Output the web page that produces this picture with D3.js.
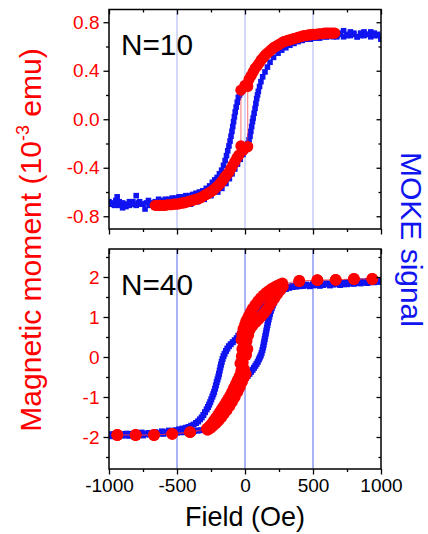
<!DOCTYPE html>
<html>
<head>
<meta charset="utf-8">
<script src="https://cdn.jsdelivr.net/npm/d3@7"></script>
<style>
html,body{margin:0;padding:0;background:#fff;}
svg{display:block;font-family:"Liberation Sans",Arial,sans-serif;}
</style>
</head>
<body>
<svg id="chart" width="428" height="534"></svg>
<script>
// ---------------- DATA ----------------
const xTickValues = [-1000, -500, 0, 500, 1000];
const xTickLabels = ["-1000", "-500", "0", "500", "1000"];
const xMinorTicks = [-750, -250, 250, 750];
const guideFields = [-500, 0, 500];

const topYTickValues = [-0.8, -0.4, 0.0, 0.4, 0.8];
const topYTickLabels = ["-0.8", "-0.4", "0.0", "0.4", "0.8"];
const topYMinorTicks = [-0.6, -0.2, 0.2, 0.6];

const botYTickValues = [-2, -1, 0, 1, 2];
const botYTickLabels = ["-2", "-1", "0", "1", "2"];
const botYMinorTicks = [-2.5, -1.5, -0.5, 0.5, 1.5, 2.5];

const panelLabels = ["N=10", "N=40"];

// N=10 : SQUID magnetic moment (10^-3 emu), descending and ascending branches
const n10MomentDown = [[660,.71],[630,.71],[600,.71],[570,.705],[540,.705],[510,.70],[480,.695],[450,.69],[420,.685],[390,.675],[360,.665],[330,.655],[300,.645],[270,.63],[240,.61],[210,.59],[180,.56],[150,.53],[120,.49],[90,.44],[60,.39],[30,.33],[0,.28],[-30,.24],
  [-30,-.22],[-60,-.32],[-90,-.38],[-120,-.44],[-150,-.48],[-180,-.525],[-210,-.56],[-240,-.59],[-270,-.61],[-300,-.63],[-330,-.65],[-360,-.66],[-390,-.67],[-420,-.68],[-450,-.69],[-480,-.695],[-510,-.70],[-540,-.705],[-570,-.705],[-600,-.71],[-630,-.71],[-660,-.71]];
const n10MomentUp = [[-645,-.71],[-615,-.71],[-585,-.71],[-555,-.705],[-525,-.70],[-495,-.70],[-465,-.69],[-435,-.685],[-405,-.675],[-375,-.665],[-345,-.655],[-315,-.64],[-285,-.62],[-255,-.60],[-225,-.575],[-195,-.545],[-165,-.505],[-135,-.46],[-105,-.41],[-75,-.35],[-45,-.295],[-15,-.255],[15,-.23],[20,-.225],
  [20,.27],[45,.36],[75,.42],[105,.465],[135,.51],[165,.545],[195,.575],[225,.60],[255,.62],[285,.64],[315,.65],[345,.66],[375,.67],[405,.68],[435,.69],[465,.695],[495,.70],[525,.70],[555,.705],[585,.71],[615,.71],[645,.71]];

// N=10 : MOKE signal (scaled onto the same axis)
const n10MokeDown = [[1000,.66],[975,.69],[950,.71],[925,.68],[900,.70],[875,.72],[850,.69],[825,.68],[800,.71],[775,.69],[750,.70],[725,.68],[700,.71],[675,.69],[650,.68],[625,.69],[600,.68],[575,.69],[550,.67],[525,.68],[500,.67],[475,.67],[450,.66],[425,.66],[400,.66],[375,.65],[350,.65],[325,.64],[300,.63],[275,.62],[250,.60],[225,.59],[200,.57],[175,.55],[150,.52],[125,.49],[100,.45],[80,.41],[60,.37],[40,.33],[20,.29],[0,.26],[-15,.24],[-30,.22],[-40,.20],[-49,.18],[-57,.14],[-65,.10],[-72,.06],[-78,.02],[-84,-.02],[-90,-.06],[-96,-.10],[-103,-.14],[-110,-.18],[-118,-.22],[-127,-.26],[-136,-.30],[-146,-.34],[-158,-.38],[-172,-.42],[-188,-.45],[-205,-.48],[-222,-.50],[-240,-.52],[-260,-.55],[-285,-.57],[-310,-.59],[-335,-.60],[-360,-.61],[-385,-.62],[-410,-.63],[-435,-.63],[-460,-.64],[-485,-.64],[-510,-.65],[-535,-.65],[-560,-.66],[-585,-.66],[-610,-.67],[-635,-.66],[-660,-.68],[-685,-.69],[-710,-.67],[-735,-.74],[-760,-.70],[-785,-.69],[-800,-.63],[-825,-.68],[-850,-.71],[-875,-.70],[-900,-.73],[-925,-.68],[-940,-.64],[-960,-.71],[-980,-.69],[-1000,-.70]];
const n10MokeUp = [[-1000,-.68],[-975,-.70],[-950,-.67],[-925,-.71],[-900,-.69],[-875,-.72],[-850,-.68],[-825,-.70],[-800,-.71],[-775,-.68],[-750,-.70],[-725,-.69],[-700,-.71],[-675,-.70],[-650,-.71],[-600,-.71],[-550,-.71],[-500,-.71],[-450,-.70],[-400,-.70],[-350,-.68],[-300,-.66],[-250,-.63],[-200,-.60],[-170,-.57],[-140,-.53],[-115,-.49],[-95,-.45],[-75,-.41],[-55,-.37],[-35,-.33],[-15,-.29],[0,-.26],[12,-.23],[22,-.20],[30,-.17],[37,-.14],[43,-.10],[49,-.06],[55,-.02],[60,.01],[67,.05],[74,.09],[80,.13],[86,.17],[92,.20],[98,.23],[107,.27],[117,.31],[130,.35],[147,.39],[165,.43],[184,.47],[210,.51],[243,.545],[270,.57],[300,.59],[330,.61],[360,.625],[390,.64],[420,.65],[450,.66],[480,.66],[510,.67],[540,.67],[570,.68],[600,.68],[625,.69],[650,.70],[675,.68],[700,.70],[725,.73],[750,.69],[775,.72],[800,.70],[825,.68],[850,.71],[875,.69],[900,.70],[925,.72],[950,.69],[975,.70],[1000,.67]];

// N=40 : SQUID magnetic moment
const n40MomentDown = [[936,1.95],[801,1.95],[667,1.93],[532,1.92],[399,1.90],[275,1.84],[255,1.81],[235,1.78],[215,1.74],[195,1.70],[175,1.65],[155,1.60],[135,1.54],[115,1.47],[95,1.39],[75,1.30],[55,1.20],[40,1.11],[25,1.01],[10,.91],[0,.81],[-12,.70],[-20,.57],[-26,.43],[-20,.20],[-24,.02],[-34,-.16],[-28,-.35],[-40,-.48],[-54,-.58],[-68,-.68],[-82,-.78],[-96,-.88],[-110,-.97],[-125,-1.06],[-140,-1.14],[-155,-1.22],[-170,-1.30],[-185,-1.38],[-200,-1.46],[-215,-1.53],[-230,-1.60],[-245,-1.67],[-260,-1.73],[-280,-1.79],[-404,-1.88],[-535,-1.92],[-669,-1.95],[-804,-1.95],[-939,-1.95]];
const n40MomentUp = [[-939,-1.95],[-804,-1.95],[-669,-1.95],[-535,-1.92],[-404,-1.88],[-275,-1.82],[-255,-1.78],[-235,-1.72],[-215,-1.66],[-195,-1.59],[-175,-1.51],[-155,-1.42],[-135,-1.33],[-115,-1.23],[-95,-1.12],[-75,-1.00],[-55,-.87],[-38,-.75],[-22,-.62],[-8,-.51],[5,-.42],[-8,-.30],[-16,-.14],[8,.05],[18,.20],[12,.40],[24,.55],[38,.70],[58,.80],[78,.87],[98,.94],[118,1.01],[138,1.09],[158,1.18],[178,1.28],[198,1.38],[218,1.48],[238,1.58],[258,1.67],[278,1.76],[399,1.90],[532,1.92],[667,1.93],[801,1.95],[936,1.95]];

// N=40 : MOKE signal
const n40MokeDown = [[1000,1.88],[975,1.92],[950,1.87],[925,1.90],[900,1.85],[875,1.88],[850,1.84],[825,1.87],[800,1.83],[775,1.86],[750,1.82],[725,1.85],[700,1.80],[675,1.84],[650,1.81],[625,1.79],[600,1.83],[575,1.80],[550,1.78],[525,1.81],[500,1.79],[475,1.77],[450,1.80],[425,1.78],[400,1.77],[375,1.76],[350,1.75],[325,1.73],[300,1.70],[275,1.68],[250,1.64],[225,1.59],[200,1.53],[180,1.47],[160,1.41],[140,1.35],[120,1.28],[100,1.20],[80,1.12],[60,1.03],[45,.95],[30,.87],[15,.79],[0,.72],[-12,.66],[-25,.62],[-37,.58],[-49,.53],[-61,.47],[-75,.42],[-90,.37],[-105,.32],[-118,.27],[-130,.21],[-140,.15],[-150,.08],[-158,.02],[-165,-.05],[-171,-.12],[-176,-.19],[-181,-.26],[-186,-.34],[-191,-.42],[-196,-.49],[-202,-.56],[-208,-.63],[-214,-.71],[-220,-.79],[-227,-.87],[-233,-.93],[-240,-.99],[-248,-1.06],[-256,-1.13],[-264,-1.19],[-272,-1.25],[-282,-1.31],[-294,-1.38],[-306,-1.45],[-318,-1.51],[-331,-1.56],[-345,-1.61],[-360,-1.65],[-378,-1.69],[-396,-1.72],[-415,-1.75],[-435,-1.77],[-460,-1.79],[-485,-1.81],[-510,-1.83],[-535,-1.86],[-560,-1.84],[-585,-1.88],[-610,-1.86],[-635,-1.90],[-660,-1.88],[-685,-1.92],[-710,-1.90],[-735,-1.93],[-760,-1.89],[-785,-1.94],[-810,-1.91],[-835,-1.95],[-860,-1.92],[-885,-1.96],[-910,-1.93],[-935,-1.97],[-960,-1.94],[-980,-1.98],[-1000,-1.95]];
const n40MokeUp = [[-1000,-1.97],[-975,-1.93],[-950,-1.98],[-925,-1.94],[-900,-1.96],[-875,-1.92],[-850,-1.97],[-825,-1.93],[-800,-1.95],[-775,-1.91],[-750,-1.96],[-725,-1.92],[-700,-1.94],[-675,-1.90],[-650,-1.93],[-625,-1.91],[-600,-1.92],[-575,-1.89],[-550,-1.91],[-525,-1.90],[-500,-1.89],[-475,-1.88],[-450,-1.88],[-425,-1.87],[-400,-1.86],[-375,-1.85],[-350,-1.84],[-325,-1.83],[-300,-1.82],[-280,-1.80],[-260,-1.77],[-240,-1.73],[-220,-1.68],[-200,-1.62],[-182,-1.56],[-165,-1.49],[-150,-1.42],[-136,-1.34],[-122,-1.26],[-110,-1.17],[-98,-1.09],[-86,-1.01],[-74,-.93],[-62,-.85],[-50,-.77],[-37,-.69],[-24,-.62],[-10,-.56],[5,-.51],[20,-.47],[33,-.42],[45,-.37],[56,-.32],[66,-.27],[76,-.22],[85,-.17],[94,-.12],[102,-.06],[109,-.01],[116,.04],[122,.10],[128,.17],[133,.24],[137,.31],[141,.38],[145,.45],[149,.52],[153,.59],[157,.66],[161,.73],[165,.80],[169,.87],[174,.94],[179,1.01],[184,1.08],[190,1.15],[197,1.22],[205,1.29],[214,1.36],[224,1.43],[235,1.50],[247,1.56],[260,1.62],[274,1.67],[290,1.71],[308,1.74],[328,1.76],[350,1.78],[375,1.79],[400,1.80],[425,1.78],[450,1.81],[475,1.79],[500,1.82],[525,1.80],[550,1.83],[575,1.81],[600,1.84],[625,1.82],[650,1.85],[675,1.83],[700,1.86],[725,1.82],[750,1.87],[775,1.84],[800,1.88],[825,1.85],[850,1.89],[875,1.86],[900,1.90],[925,1.87],[950,1.91],[975,1.88],[1000,1.90]];

// ---------------- DRAWING ----------------
const RED = "#ff0000", BLUE = "#0f14f0";
const FONT = "Liberation Sans, Arial, sans-serif";
const svg = d3.select("#chart");
const left = 109, right = 381;
const x = d3.scaleLinear().domain([-1000, 1000]).range([left, right]);

// scale a text element's font so that its rendered length matches a target
function fitLength(sel, target) {
  const node = sel.node();
  const len = node.getComputedTextLength();
  const fs = parseFloat(sel.attr("font-size"));
  if (len > 0) {
    const k = target / len;
    sel.attr("font-size", fs * k);
    sel.selectAll("tspan").each(function () {
      const t = d3.select(this);
      if (t.attr("font-size")) t.attr("font-size", parseFloat(t.attr("font-size")) * k);
      if (t.attr("dy")) t.attr("dy", parseFloat(t.attr("dy")) * k);
    });
  }
}

const panels = [
  {top: 9.5, bottom: 229, domain: [-0.905, 0.905], yt: topYTickValues, yl: topYTickLabels, ym: topYMinorTicks,
   moke: [n10MokeDown, n10MokeUp], moment: [n10MomentDown, n10MomentUp], label: panelLabels[0],
   r: 5.6, sq: 5.6, guide: "#aab2f2", xlabels: false, lineOp: 0.75},
  {top: 249, bottom: 469, domain: [-2.8, 2.7], yt: botYTickValues, yl: botYTickLabels, ym: botYMinorTicks,
   moke: [n40MokeDown, n40MokeUp], moment: [n40MomentDown, n40MomentUp], label: panelLabels[1],
   r: 5.9, sq: 6, guide: "#5566e6", xlabels: true, lineOp: 0.6}
];

panels.forEach((p, i) => {
  const y = d3.scaleLinear().domain(p.domain).range([p.bottom, p.top]);
  const g = svg.append("g");
  const clipId = "clip" + i;
  svg.append("defs").append("clipPath").attr("id", clipId)
    .append("rect").attr("x", left).attr("y", p.top).attr("width", right - left).attr("height", p.bottom - p.top);
  const plot = g.append("g").attr("clip-path", `url(#${clipId})`);

  plot.selectAll("line.guide").data(guideFields).join("line").attr("class", "guide")
    .attr("x1", d => x(d)).attr("x2", d => x(d)).attr("y1", p.top).attr("y2", p.bottom)
    .attr("stroke", p.guide).attr("stroke-width", 1);

  p.moke.forEach(series => {
    plot.append("g").selectAll("rect").data(series).join("rect")
      .attr("x", d => x(d[0]) - p.sq / 2).attr("y", d => y(d[1]) - p.sq / 2)
      .attr("width", p.sq).attr("height", p.sq).attr("fill", BLUE);
  });

  const line = d3.line().x(d => x(d[0])).y(d => y(d[1]));
  p.moment.forEach(series => {
    plot.append("path").datum(series).attr("d", line).attr("fill", "none")
      .attr("stroke", "#ff3030").attr("stroke-width", 0.9).attr("stroke-opacity", p.lineOp);
  });
  p.moment.forEach(series => {
    plot.append("g").selectAll("circle").data(series).join("circle")
      .attr("cx", d => x(d[0])).attr("cy", d => y(d[1])).attr("r", p.r).attr("fill", RED);
  });

  g.append("rect").attr("x", left).attr("y", p.top).attr("width", right - left).attr("height", p.bottom - p.top)
    .attr("fill", "none").attr("stroke", "#000").attr("stroke-width", 1.5);

  const styleAxis = sel => { sel.select(".domain").remove(); sel.selectAll("line").attr("stroke", "#000").attr("stroke-width", 1.3); };

  g.append("g").attr("transform", `translate(${left},0)`)
    .call(d3.axisLeft(y).tickValues(p.yt).tickSize(5.5).tickPadding(4).tickFormat((d, k) => p.yl[k]))
    .call(styleAxis)
    .call(s => s.selectAll("text").attr("fill", RED).attr("font-size", 19).attr("font-family", FONT));
  g.append("g").attr("transform", `translate(${left},0)`)
    .call(d3.axisLeft(y).tickValues(p.ym).tickSize(3).tickFormat(""))
    .call(styleAxis);
  g.append("g").attr("transform", `translate(${right},0)`)
    .call(d3.axisRight(y).tickValues(p.yt).tickSize(-4.5).tickFormat(""))
    .call(styleAxis);
  g.append("g").attr("transform", `translate(${right},0)`)
    .call(d3.axisRight(y).tickValues(p.ym).tickSize(-2.5).tickFormat(""))
    .call(styleAxis);
  g.append("g").attr("transform", `translate(0,${p.top})`)
    .call(d3.axisTop(x).tickValues(xTickValues).tickSize(-5).tickFormat(""))
    .call(styleAxis);
  g.append("g").attr("transform", `translate(0,${p.top})`)
    .call(d3.axisTop(x).tickValues(xMinorTicks).tickSize(-3).tickFormat(""))
    .call(styleAxis);
  g.append("g").attr("transform", `translate(0,${p.bottom})`)
    .call(d3.axisBottom(x).tickValues(xTickValues).tickSize(5.5).tickPadding(4)
      .tickFormat((d, k) => p.xlabels ? xTickLabels[k] : ""))
    .call(styleAxis)
    .call(s => s.selectAll("text").attr("fill", "#000").attr("font-size", 19).attr("font-family", FONT));
  g.append("g").attr("transform", `translate(0,${p.bottom})`)
    .call(d3.axisBottom(x).tickValues(xMinorTicks).tickSize(3).tickFormat(""))
    .call(styleAxis);

  const nl = g.append("text").attr("x", 121).attr("y", p.top + 45.5).attr("font-size", 29)
    .attr("font-family", FONT).attr("fill", "#000").text(p.label);
  fitLength(nl, 72);
});

// axis titles
const fl = svg.append("text").attr("x", 245).attr("y", 526).attr("text-anchor", "middle")
  .attr("font-size", 26).attr("font-family", FONT).attr("fill", "#000").text("Field (Oe)");
fitLength(fl, 120);

const ylab = svg.append("text").attr("transform", "translate(41,240) rotate(-90)")
  .attr("text-anchor", "middle").attr("font-size", 28.5).attr("font-family", FONT).attr("fill", RED);
ylab.append("tspan").text("Magnetic moment (10");
ylab.append("tspan").attr("dy", -11).attr("font-size", 17).text("-3");
ylab.append("tspan").attr("dy", 11).text(" emu)");
fitLength(ylab, 384);

const mk = svg.append("text").attr("transform", "translate(401,239.5) rotate(90)")
  .attr("text-anchor", "middle").attr("font-size", 29.5).attr("font-family", FONT).attr("fill", BLUE).text("MOKE signal");
fitLength(mk, 175);
</script>
</body>
</html>
